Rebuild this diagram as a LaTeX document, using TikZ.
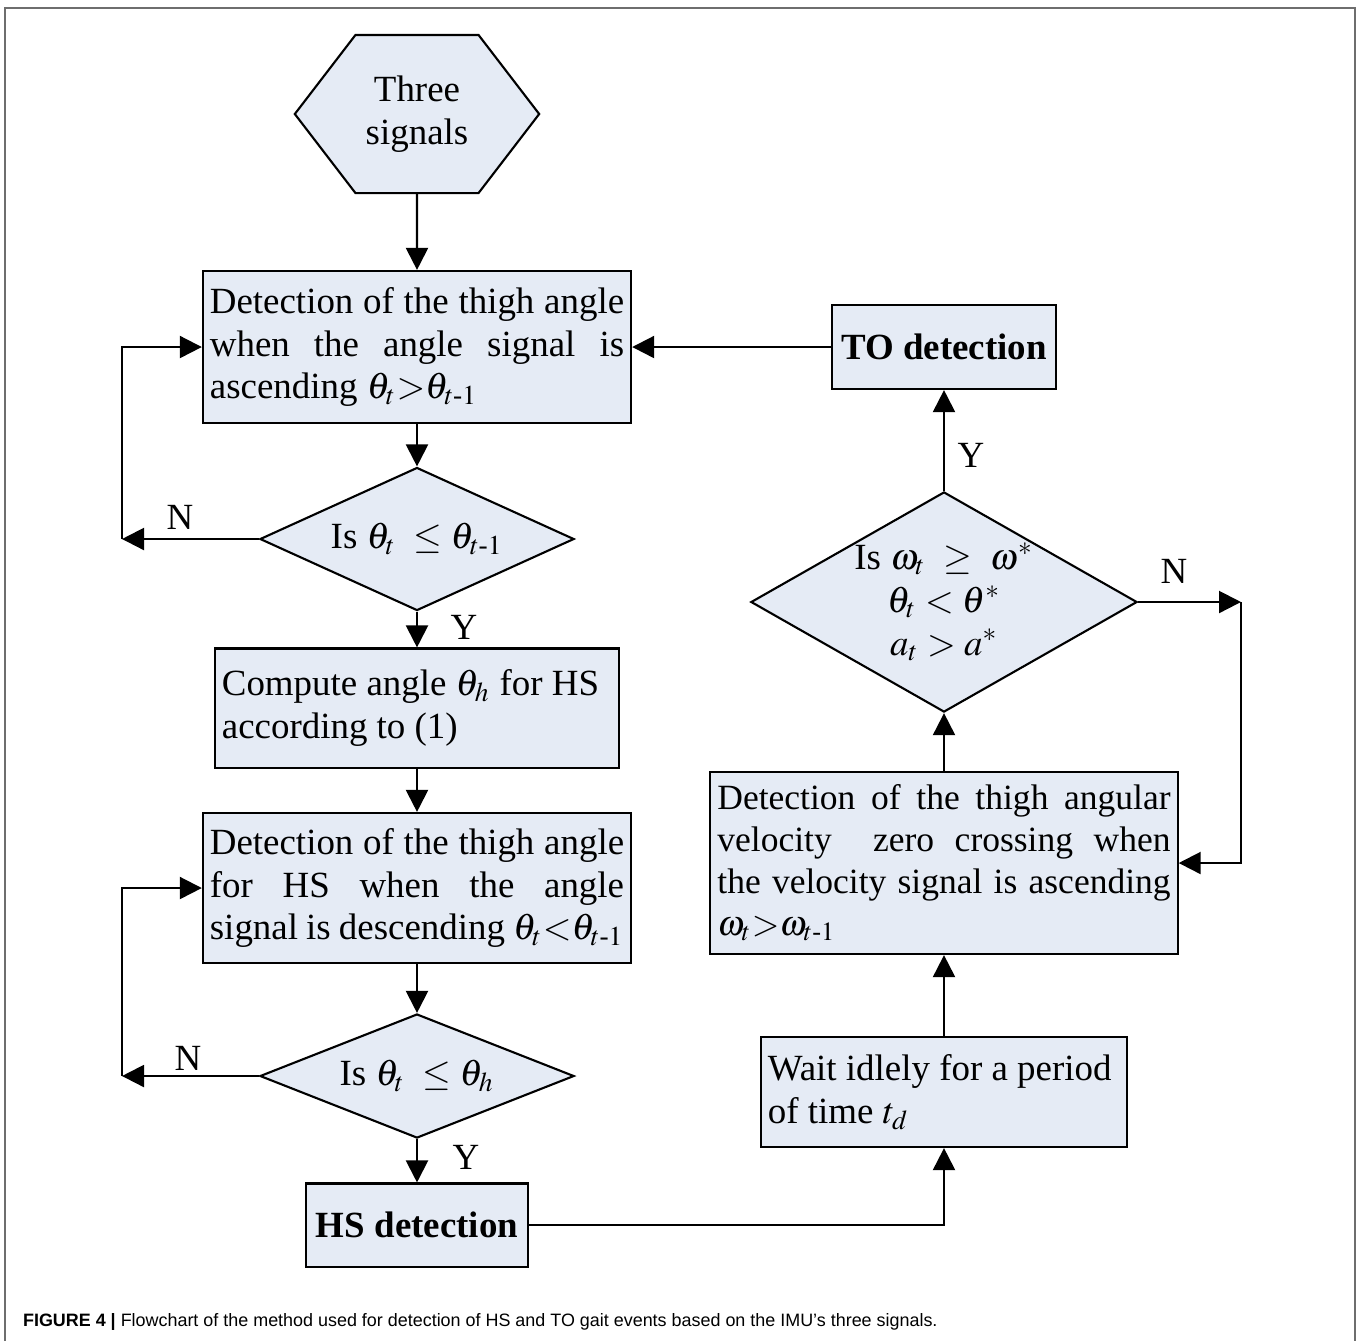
\documentclass[tikz,border=0pt]{standalone}
\usepackage{amsmath}
\usepackage{mathptmx}
\usepackage{fontspec}
\setmainfont{Liberation Serif}
\setsansfont{Liberation Sans}
\usetikzlibrary{arrows.meta,shapes.geometric,shapes.symbols}
\definecolor{boxfill}{RGB}{229,235,245}
\definecolor{framegray}{RGB}{110,110,110}
\newcommand{\tprev}{t\text{-}1}

\begin{document}
\begin{tikzpicture}[->,>={Triangle[length=0.22cm,width=0.22cm]},line width=0.6pt,
		x=0.01cm,y=-0.01cm,font=\fontsize{10.5}{12.2}\selectfont]
		\tikzstyle{block}=[rectangle,draw=black,fill=boxfill,inner xsep=0.07cm,inner ysep=0pt,align=justify]
		\tikzstyle{boldblock}=[block,align=center,font=\fontsize{10.5}{12.2}\selectfont\bfseries]
		\tikzstyle{decision}=[diamond,draw=black,fill=boxfill,inner sep=0pt,align=center]
		\tikzstyle{yn}=[inner sep=0pt]
		
		\useasboundingbox (0,0) rectangle (1358,1341);
		\draw[-,framegray,line width=0.7pt] (5,1341) -- (5,8) -- (1355,8) -- (1355,1341);
		
		% left column
		\node[signal,signal to=west and east,signal pointer angle=105,draw=black,fill=boxfill,
			text width=1.09cm,inner xsep=0.07cm,minimum height=1.58cm,align=center] (sig) at (417,114) {Three\\signals};
		\node[block,text width=4.14cm,minimum height=1.52cm] (asc) at (417,347)
			{Detection of the thigh angle\linebreak when the angle signal is\linebreak ascending $\theta_t{>}\theta_{\tprev}$};
		\node[decision,aspect=2.2,minimum width=3.14cm,minimum height=1.43cm] (dec1) at (417,539) {Is $\theta_t\ \le\theta_{\tprev}$};
		\node[block,text width=3.90cm,minimum height=1.19cm] (comp) at (417,708)
			{Compute angle $\theta_h$ for HS\\according to (1)};
		\node[block,text width=4.14cm,minimum height=1.50cm] (desc) at (417,888)
			{Detection of the thigh angle\linebreak for HS when the angle\linebreak signal is descending $\theta_t{<}\theta_{\tprev}$};
		\node[decision,aspect=2.5,minimum width=3.14cm,minimum height=1.24cm] (dec2) at (417,1076) {Is $\theta_t\ \le\theta_h$};
		\node[boldblock,minimum width=2.22cm,minimum height=0.83cm] (hs) at (417,1225) {HS detection};
		
		% right column
		\node[block,text width=3.52cm,minimum height=1.10cm] (wait) at (944,1092)
			{Wait idlely for a period\\of time $t_d$};
		\node[block,text width=4.53cm,minimum height=1.82cm,font=\fontsize{10.1}{11.9}\selectfont] (vel) at (944,863)
			{Detection of the thigh angular\linebreak velocity\ \ zero crossing when\linebreak the velocity signal is ascending\linebreak $\omega_t{>}\omega_{\tprev}$};
		\node[decision,aspect=1.75,minimum width=3.86cm,minimum height=2.20cm] (dec3) at (944,602)
			{Is $\omega_t\ \ge\ \omega^{*}$\\$\theta_t<\theta^{*}$\\$a_t>a^{*}$};
		\node[boldblock,minimum width=2.24cm,minimum height=0.84cm] (to) at (944,347) {TO detection};
		
		\coordinate (c1) at (122,539);
		\coordinate (c2) at (122,1076);
		\coordinate (c3) at (1241,602);
		
		\node[yn] (n1) at (180,517) {N};
		\node[yn] (y1) at (464,627) {Y};
		\node[yn] (n2) at (188,1058) {N};
		\node[yn] (y2) at (466,1157) {Y};
		\node[yn] (y3) at (971,455) {Y};
		\node[yn] (n3) at (1174,571) {N};
		
		\path	(sig)	edge	(asc)
				(asc)	edge	(dec1)
				(dec1)	edge	(comp)
				(comp)	edge	(desc)
				(desc)	edge	(dec2)
				(dec2)	edge	(hs)
				(wait)	edge	(vel)
				(vel)	edge	(dec3)
				(dec3)	edge	(to)
				(to)	edge	(asc);
		
		% loops back
		\draw (dec1.west) -- (c1);
		\draw (c1) |- (asc.west);
		\draw (dec2.west) -- (c2);
		\draw (c2) |- (desc.west);
		\draw (dec3.east) -- (c3);
		\draw (c3) |- (vel.east);
		\draw (hs.east) -| (wait.south);
		
		\node[anchor=west,inner sep=0pt,font=\sffamily\fontsize{5.1}{6}\selectfont] (caption) at (22,1322)
			{\textbf{FIGURE 4 |} Flowchart of the method used for detection of HS and TO gait events based on the IMU’s three signals.};
\end{tikzpicture}
\end{document}
